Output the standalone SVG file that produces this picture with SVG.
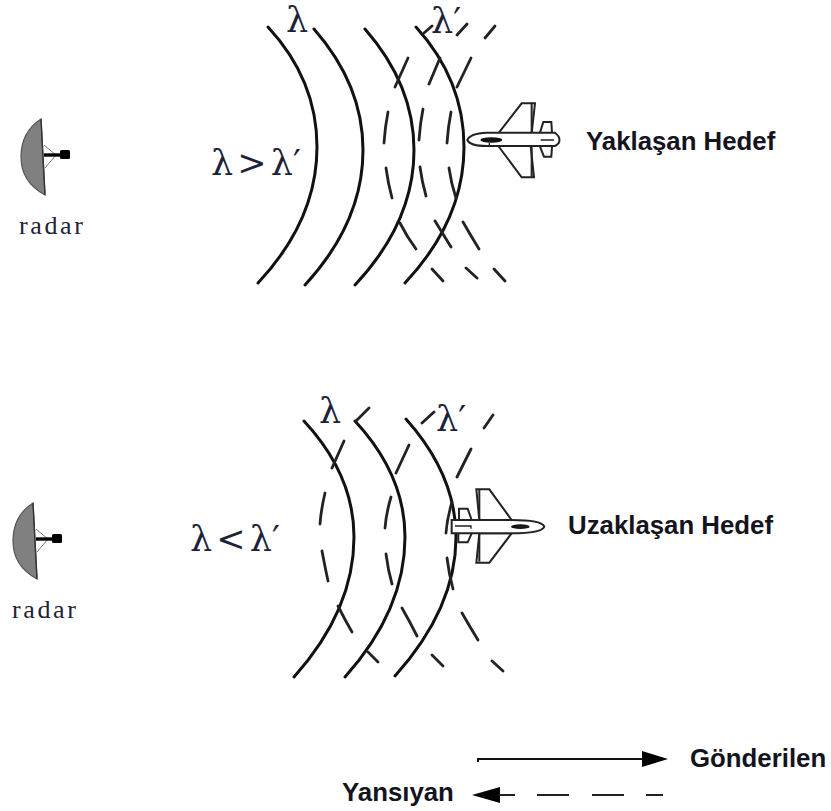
<svg xmlns="http://www.w3.org/2000/svg" width="831" height="811" viewBox="0 0 831 811">
<style>
.a{fill:none;stroke:#111;stroke-width:3;stroke-linecap:round}
.d{fill:none;stroke:#222;stroke-width:2.8;stroke-linecap:round}
.b{font-family:"Liberation Sans",Arial,sans-serif;font-weight:700;font-size:25.8px;fill:#14141e}
.r{font-family:"Liberation Serif","Times New Roman",serif;font-size:26px;letter-spacing:2.6px;fill:#222238}
.l{font-family:"DejaVu Serif","Liberation Serif",serif;font-size:35px;word-spacing:-7px;fill:#1c2238}
.p{fill:#fff;stroke:#222;stroke-width:6}
.t{fill:none;stroke:#222;stroke-width:6}
</style>
<defs>
<g id="dish">
<path d="M41 119Q21 132 21 157Q21 182 45 195Z" fill="#808080" stroke="#555" stroke-width="1.2"/>
<path d="M41 119L45 195" stroke="#333" stroke-width="1.4" fill="none"/>
<path d="M44 145L56 155L45 168" stroke="#777" stroke-width="1" fill="none"/>
<path d="M44 155H61" stroke="#000" stroke-width="3.4"/>
<rect x="60" y="150" width="10" height="9" rx="1.5" fill="#000"/>
</g>
</defs>
<g id="connectors">
<g id="wave-top">
<path class="a" d="M268 27Q317 80 317 147Q317 220 258 283"/>
<path class="a" d="M314 29Q363 85 363 150Q363 222 305 285"/>
<path class="a" d="M365 29Q414 85 414 150Q414 222 355 285"/>
<path class="a" d="M416 27Q464 80 464 147Q464 220 405 283"/>
<path class="d" d="M408 58L395 87M388 112Q385 127 384 143M386 168Q388 183 392 198M400 223Q407 237 416 249M432 269L443 281"/>
<path class="d" d="M432 26L424 33M440 58L429 84M423 109Q420 124 419 140M420 167Q422 182 426 196M435 221Q443 234 451 247M466 268L477 278"/>
<path class="d" d="M467 24L457 35M471 58L457 87M451 112Q448 127 447 143M449 168Q451 183 456 198M463 222Q471 236 479 249M494 269L505 281"/>
<path class="d" d="M495 26L485 38"/>
</g>
<g id="wave-bottom">
<path class="a" d="M304 421Q354 475 354 537Q354 610 294 677"/>
<path class="a" d="M355 421Q405 475 405 537Q405 610 345 677"/>
<path class="a" d="M406 419Q456 475 456 537Q456 608 395 676"/>
<path class="d" d="M369 408L356 421M344 441L332 468M325 493Q321 510 320 524M322 551Q325 567 328 581M338 606Q345 620 352 632M368 652L378 662"/>
<path class="d" d="M434 412L422 423M409 445L396 473M391 497Q386 514 385 528M386 554Q388 570 392 584M402 608Q410 622 417 636M432 655L443 666"/>
<path class="d" d="M493 415L484 428M471 449L457 477M452 502Q447 519 446 533M447 558Q449 574 453 589M462 613Q470 627 478 640M492 661L503 671"/>
</g>
<g id="legend-lines">
<path d="M478 762V759H645" fill="none" stroke="#111" stroke-width="2"/>
<path d="M642 751L668 759L642 767Z" fill="#000"/>
<path d="M472 795L500 787V803Z" fill="#000"/>
<path d="M498 795H515M537 795H569M592 795H624M646 795H663" fill="none" stroke="#222" stroke-width="2"/>
</g>
</g>
<g id="radar-top">
<use href="#dish"/>
<text class="r" x="19" y="234">radar</text>
</g>
<g id="radar-bottom">
<use href="#dish" x="-8" y="384"/>
<text class="r" x="12" y="618">radar</text>
</g>
<g id="plane-top" transform="translate(450 90) scale(.3333)">
<path class="p" d="M145 130L215 40H255L245 130Z"/>
<path class="p" d="M145 168L215 262H252L242 168Z"/>
<path class="t" d="M245 38V260"/>
<path class="p" d="M270 128L280 96H304L306 128M270 170L282 200H304L306 170"/>
<path class="p" d="M52 150Q60 130 110 128H315Q330 140 328 150Q330 160 315 168H110Q60 168 52 150Z"/>
<ellipse cx="124" cy="150" rx="33" ry="8" fill="#111"/>
<path d="M272 150H312M118 158V165" stroke="#222" stroke-width="4" fill="none"/>
</g>
<g id="plane-bottom" transform="translate(445 480) scale(.3333)">
<path class="p" d="M200 120L133 28H94L103 120Z"/>
<path class="p" d="M200 160L133 248H94L103 160Z"/>
<path class="t" d="M103 30V245"/>
<path class="p" d="M80 120L68 86H42V120M80 160L68 187H40V160"/>
<path class="p" d="M20 120H200Q290 120 298 140Q290 160 200 160H20Z"/>
<ellipse cx="226" cy="140" rx="28" ry="7" fill="#111"/>
<path d="M30 138H78V146M250 140H215" stroke="#222" stroke-width="4" fill="none"/>
</g>
<g id="labels">
<text class="l" x="286" y="32">λ</text>
<text class="l" x="431" y="33">λ′</text>
<text class="l" x="211" y="175">λ &gt; λ′</text>
<text class="l" x="319" y="423">λ</text>
<text class="l" x="436" y="431">λ′</text>
<text class="l" x="190" y="551">λ &lt; λ′</text>
<text class="b" x="586" y="150">Yaklaşan Hedef</text>
<text class="b" x="568" y="534">Uzaklaşan Hedef</text>
<text class="b" x="690" y="767">Gönderilen</text>
<text class="b" x="342" y="801">Yansıyan</text>
</g>
</svg>
